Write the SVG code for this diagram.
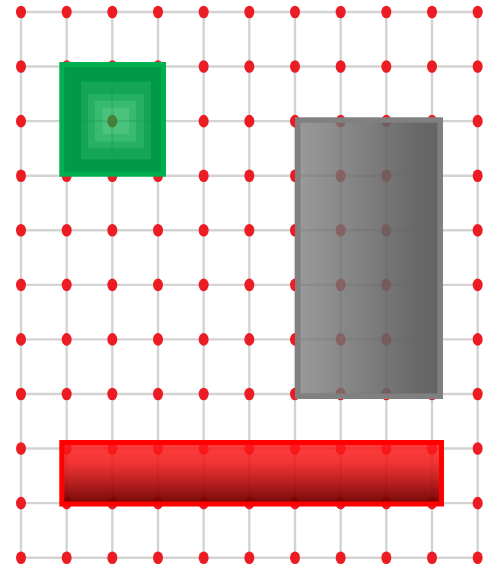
<svg xmlns="http://www.w3.org/2000/svg" xmlns:xlink="http://www.w3.org/1999/xlink" width="496" height="565" viewBox="0 0 496 565">
  <style>
    .gl { stroke: #d3d3d3; stroke-width: 2.4; fill: none; }
    .dot { fill: #ec1c24; }
  </style>
  <defs>
    <g id="dotrow">
      <ellipse class="dot" cx="21" cy="0" rx="5" ry="6.3"/>
      <ellipse class="dot" cx="66.67" cy="0" rx="5" ry="6.3"/>
      <ellipse class="dot" cx="112.33" cy="0" rx="5" ry="6.3"/>
      <ellipse class="dot" cx="158" cy="0" rx="5" ry="6.3"/>
      <ellipse class="dot" cx="203.67" cy="0" rx="5" ry="6.3"/>
      <ellipse class="dot" cx="249.33" cy="0" rx="5" ry="6.3"/>
      <ellipse class="dot" cx="295" cy="0" rx="5" ry="6.3"/>
      <ellipse class="dot" cx="340.67" cy="0" rx="5" ry="6.3"/>
      <ellipse class="dot" cx="386.33" cy="0" rx="5" ry="6.3"/>
      <ellipse class="dot" cx="432" cy="0" rx="5" ry="6.3"/>
      <ellipse class="dot" cx="477.67" cy="0" rx="5" ry="6.3"/>
    </g>
    <mask id="greenMask" maskUnits="userSpaceOnUse" x="0" y="0" width="496" height="565">
      <rect x="61.8" y="64.5" width="101.7" height="109.7" fill="#ffffff"/>
      <rect x="81" y="81.7" width="70" height="77.6" fill="#ebebeb"/>
      <rect x="88" y="94" width="56" height="54.3" fill="#d9d9d9"/>
      <rect x="95" y="101" width="41" height="40.7" fill="#c7c7c7"/>
      <rect x="102.7" y="107.7" width="26.3" height="26.3" fill="#b3b3b3"/>
    </mask>
    <linearGradient id="grayGrad" x1="300" y1="0" x2="438" y2="0" gradientUnits="userSpaceOnUse">
      <stop offset="0" stop-color="#7c7c7c" stop-opacity="0.78"/>
      <stop offset="0.62" stop-color="#646464" stop-opacity="0.88"/>
      <stop offset="0.85" stop-color="#686868" stop-opacity="1"/>
      <stop offset="1" stop-color="#646464" stop-opacity="1"/>
    </linearGradient>
    <linearGradient id="redGrad" x1="0" y1="445" x2="0" y2="502" gradientUnits="userSpaceOnUse">
      <stop offset="0" stop-color="#ff1a1a" stop-opacity="0.85"/>
      <stop offset="0.3" stop-color="#f01414" stop-opacity="0.86"/>
      <stop offset="1" stop-color="#740000" stop-opacity="0.96"/>
    </linearGradient>
  </defs>

  <rect x="0" y="0" width="496" height="565" fill="#ffffff"/>

  <g id="grid">
    <g id="grid-lines">
      <line class="gl" x1="21" y1="12" x2="21" y2="557.7"/>
      <line class="gl" x1="66.67" y1="12" x2="66.67" y2="557.7"/>
      <line class="gl" x1="112.33" y1="12" x2="112.33" y2="557.7"/>
      <line class="gl" x1="158" y1="12" x2="158" y2="557.7"/>
      <line class="gl" x1="203.67" y1="12" x2="203.67" y2="557.7"/>
      <line class="gl" x1="249.33" y1="12" x2="249.33" y2="557.7"/>
      <line class="gl" x1="295" y1="12" x2="295" y2="557.7"/>
      <line class="gl" x1="340.67" y1="12" x2="340.67" y2="557.7"/>
      <line class="gl" x1="386.33" y1="12" x2="386.33" y2="557.7"/>
      <line class="gl" x1="432" y1="12" x2="432" y2="557.7"/>
      <line class="gl" x1="477.67" y1="12" x2="477.67" y2="557.7"/>
      <line class="gl" x1="21" y1="12" x2="477.67" y2="12"/>
      <line class="gl" x1="21" y1="66.57" x2="477.67" y2="66.57"/>
      <line class="gl" x1="21" y1="121.14" x2="477.67" y2="121.14"/>
      <line class="gl" x1="21" y1="175.71" x2="477.67" y2="175.71"/>
      <line class="gl" x1="21" y1="230.28" x2="477.67" y2="230.28"/>
      <line class="gl" x1="21" y1="284.85" x2="477.67" y2="284.85"/>
      <line class="gl" x1="21" y1="339.42" x2="477.67" y2="339.42"/>
      <line class="gl" x1="21" y1="393.99" x2="477.67" y2="393.99"/>
      <line class="gl" x1="21" y1="448.56" x2="477.67" y2="448.56"/>
      <line class="gl" x1="21" y1="503.13" x2="477.67" y2="503.13"/>
      <line class="gl" x1="21" y1="557.7" x2="477.67" y2="557.7"/>
    </g>
    <g id="grid-dots">
      <use href="#dotrow" xlink:href="#dotrow" x="0" y="12"/>
      <use href="#dotrow" xlink:href="#dotrow" x="0" y="66.57"/>
      <use href="#dotrow" xlink:href="#dotrow" x="0" y="121.14"/>
      <use href="#dotrow" xlink:href="#dotrow" x="0" y="175.71"/>
      <use href="#dotrow" xlink:href="#dotrow" x="0" y="230.28"/>
      <use href="#dotrow" xlink:href="#dotrow" x="0" y="284.85"/>
      <use href="#dotrow" xlink:href="#dotrow" x="0" y="339.42"/>
      <use href="#dotrow" xlink:href="#dotrow" x="0" y="393.99"/>
      <use href="#dotrow" xlink:href="#dotrow" x="0" y="448.56"/>
      <use href="#dotrow" xlink:href="#dotrow" x="0" y="503.13"/>
      <use href="#dotrow" xlink:href="#dotrow" x="0" y="557.7"/>
    </g>
  </g>

  <g id="green-square">
    <g mask="url(#greenMask)">
      <rect x="61.8" y="64.5" width="101.7" height="109.7" fill="#009a48"/>
      <rect x="81" y="81.7" width="70" height="77.6" fill="#009e48"/>
      <rect x="88" y="94" width="56" height="54.3" fill="#00a248"/>
      <rect x="95" y="101" width="41" height="40.7" fill="#00a647"/>
      <rect x="102.7" y="107.7" width="26.3" height="26.3" fill="#00a945"/>
    </g>
    <rect x="61.8" y="64.5" width="101.7" height="109.7" fill="none" stroke="#00b050" stroke-width="5"/>
  </g>

  <g id="gray-rect">
    <rect x="297.75" y="120.05" width="142.5" height="276.2" fill="url(#grayGrad)" stroke="#808080" stroke-width="5.5"/>
  </g>

  <g id="red-bar">
    <rect x="61.8" y="442.5" width="379.7" height="61.5" fill="url(#redGrad)" stroke="#ff0000" stroke-width="5"/>
  </g>
</svg>
